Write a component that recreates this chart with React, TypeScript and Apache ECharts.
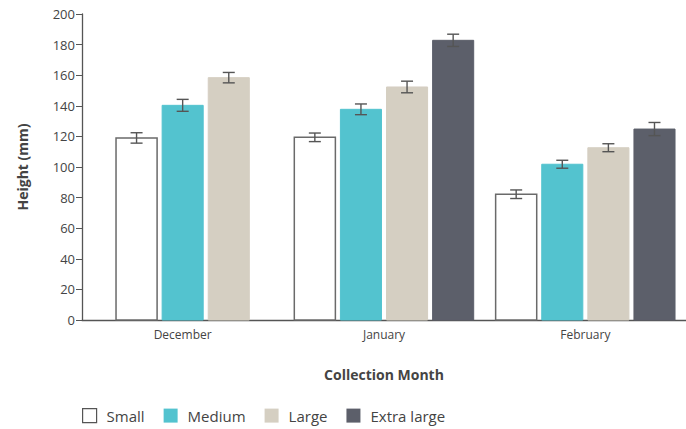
import React, { useEffect, useRef } from "react";
import * as echarts from "echarts";

const categories = ["December", "January", "February"];
const seriesNames = ["Small", "Medium", "Large", "Extra large"];
const small = [119, 119.4, 82.2];
const medium = [140.3, 137.7, 101.8];
const large = [158.4, 152.3, 112.6];
const extraLarge: (number | null)[] = [null, 182.8, 124.8];
const smallErr = [3.4, 2.8, 2.8];
const mediumErr = [3.9, 3.5, 2.6];
const largeErr = [3.4, 3.8, 2.6];
const extraLargeErr: (number | null)[] = [null, 4, 4.3];
const yTicks = { min: 0, max: 200, interval: 20 };

const fills = ["#ffffff", "#53c3cf", "#d5cfc2", "#5c5f6a"];
const borders = ["#6a6a6a", "#53c3cf", "#d5cfc2", "#5c5f6a"];
const FONT = "'Open Sans', 'Noto Sans', sans-serif";

export default function App() {
  const ref = useRef<HTMLDivElement>(null);
  useEffect(() => {
    if (!ref.current) return;
    const chart = echarts.init(ref.current, null, { renderer: "svg" });
    const allValues = [small, medium, large, extraLarge];
    const allErrs = [smallErr, mediumErr, largeErr, extraLargeErr];
    const present = categories.map((_, ci) =>
      allValues.map((v, si) => (v[ci] == null ? -1 : si)).filter((s) => s >= 0)
    );

    const series = allValues.map((vals, si) => ({
      type: "custom",
      name: seriesNames[si],
      itemStyle: { color: fills[si], borderColor: borders[si] },
      encode: { x: 0, y: 1 },
      data: vals
        .map((v, ci) => (v == null ? null : [ci, v, allErrs[si][ci] as number]))
        .filter((d) => d != null),
      renderItem: (params: any, api: any) => {
        const ci = api.value(0);
        const val = api.value(1);
        const err = api.value(2);
        const band = api.size([1, 0])[0];
        const bw = band * 0.204;
        const gap = band * 0.025;
        const list = present[ci];
        const n = list.length;
        const k = list.indexOf(si);
        const center = api.coord([ci, 0])[0];
        const total = n * bw + (n - 1) * gap;
        const x0 = center - total / 2 + k * (bw + gap);
        const yBase = api.coord([ci, 0])[1];
        const yTop = api.coord([ci, val])[1];
        const yHi = api.coord([ci, val + err])[1];
        const yLo = api.coord([ci, val - err])[1];
        const cx = x0 + bw / 2;
        const cap = 6;
        const es = { stroke: "#555", lineWidth: 1.4 };
        return {
          type: "group",
          children: [
            {
              type: "rect",
              shape: { x: x0, y: yTop, width: bw, height: yBase - yTop },
              style: {
                fill: fills[si],
                stroke: borders[si],
                lineWidth: si === 0 ? 1.5 : 1,
              },
            },
            { type: "line", shape: { x1: cx, y1: yHi, x2: cx, y2: yLo }, style: es },
            { type: "line", shape: { x1: cx - cap, y1: yHi, x2: cx + cap, y2: yHi }, style: es },
            { type: "line", shape: { x1: cx - cap, y1: yLo, x2: cx + cap, y2: yLo }, style: es },
          ],
        };
      },
    }));

    chart.setOption({
      animation: false,
      textStyle: { fontFamily: FONT },
      grid: { left: 82, right: 0, top: 14, bottom: 109, containLabel: false },
      legend: {
        left: 77,
        top: 403,
        itemWidth: 14,
        itemHeight: 14,
        itemGap: 19,
        icon: "rect",
        textStyle: { fontSize: 15, color: "#444", fontFamily: FONT, padding: [0, 0, 0, 5] },
        data: seriesNames.map((name, i) => ({
          name,
          icon: "rect",
          itemStyle: { color: fills[i], borderColor: i === 0 ? "#555" : fills[i], borderWidth: i === 0 ? 1.2 : 0 },
        })),
      },
      xAxis: {
        type: "category",
        data: categories,
        name: "Collection Month",
        nameLocation: "middle",
        nameGap: 47,
        nameTextStyle: { fontSize: 14, fontWeight: "bold", color: "#444", fontFamily: FONT },
        axisLine: { lineStyle: { color: "#555", width: 1.3 } },
        axisTick: { show: false },
        axisLabel: { fontSize: 12, color: "#444", margin: 8, fontFamily: FONT },
      },
      yAxis: {
        type: "value",
        min: yTicks.min,
        max: yTicks.max,
        interval: yTicks.interval,
        name: "Height (mm)",
        nameLocation: "middle",
        nameGap: 53,
        nameTextStyle: { fontSize: 14, fontWeight: "bold", color: "#444", fontFamily: FONT },
        axisLine: { show: true, lineStyle: { color: "#555", width: 1.3 } },
        axisTick: { show: true, length: 6, lineStyle: { color: "#555" } },
        splitLine: { show: false },
        axisLabel: { fontSize: 13, color: "#444", margin: 7, fontFamily: FONT },
      },
      series,
    });
    return () => chart.dispose();
  }, []);
  return <div ref={ref} style={{ width: 686, height: 429, position: "absolute", left: 0, top: 0 }} />;
}
